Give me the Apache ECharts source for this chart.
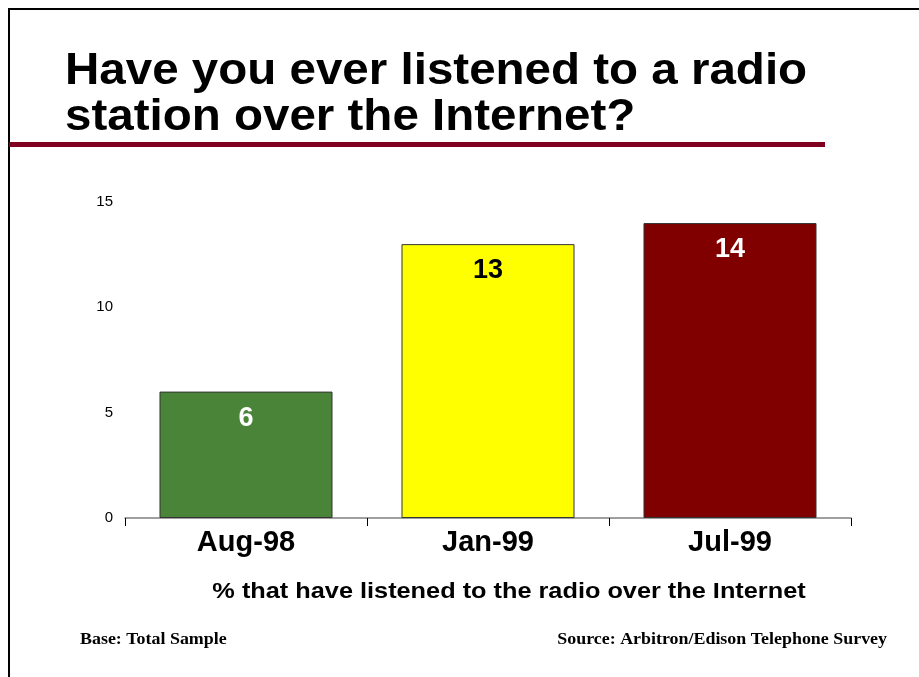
<!DOCTYPE html>
<html>
<head>
<meta charset="utf-8">
<script src="https://cdn.jsdelivr.net/npm/echarts@6/dist/echarts.min.js"></script>
<style>
  html, body { margin: 0; padding: 0; background: #fff; }
  #chart { width: 919px; height: 677px; }
</style>
</head>
<body>
<div id="chart"></div>
<script>
// Survey waves and share of respondents who had listened to radio online (%)
const categories = ['Aug-98', 'Jan-99', 'Jul-99'];
const values = [6, 13, 14];
const barColors = ['#4a8438', '#ffff00', '#800000'];
const labelColors = ['#ffffff', '#000000', '#ffffff'];
const yTicks = [0, 5, 10, 15];

const titleLines = ['Have you ever listened to a radio', 'station over the Internet?'];
const axisCaption = '% that have listened to the radio over the Internet';
const baseNote = 'Base: Total Sample';
const sourceNote = 'Source: Arbitron/Edison Telephone Survey';

const FONT = '"Liberation Sans", Arial, sans-serif';
const SERIF = '"Liberation Serif", "Times New Roman", serif';

const chart = echarts.init(document.getElementById('chart'));

chart.setOption({
  animation: false,
  backgroundColor: '#ffffff',
  grid: { left: 125, right: 68, top: 202, bottom: 159, containLabel: false },
  xAxis: {
    type: 'category',
    data: categories,
    axisLine: { show: true, lineStyle: { color: '#808080', width: 1.5 } },
    axisTick: { show: true, length: 8, lineStyle: { color: '#000000', width: 1 } },
    axisLabel: {
      fontFamily: FONT, fontWeight: 'bold', fontSize: 29, color: '#000000', margin: 10
    }
  },
  yAxis: {
    type: 'value',
    min: yTicks[0],
    max: yTicks[yTicks.length - 1],
    interval: 5,
    axisLine: { show: false },
    axisTick: { show: false },
    splitLine: { show: false },
    axisLabel: { fontFamily: FONT, fontSize: 15, color: '#000000', margin: 12 }
  },
  series: [{
    type: 'bar',
    barWidth: '71.5%',
    data: values.map((v, i) => ({
      value: v,
      itemStyle: { color: barColors[i], borderColor: '#333333', borderWidth: 1 },
      label: { color: labelColors[i] }
    })),
    label: {
      show: true,
      position: 'insideTop',
      distance: 13,
      fontFamily: FONT,
      fontWeight: 'bold',
      fontSize: 27,
      formatter: p => String(p.value)
    }
  }],
  graphic: [
    // slide frame
    {
      type: 'polyline',
      shape: { points: [[9, 677], [9, 9], [919, 9]] },
      style: { stroke: '#000000', lineWidth: 2, fill: null }
    },
    // title, two lines
    {
      type: 'text', x: 65, y: 72, scaleX: 1.08,
      style: {
        text: titleLines[0],
        font: 'bold 44px ' + FONT,
        fill: '#000000', align: 'left', verticalAlign: 'middle'
      }
    },
    {
      type: 'text', x: 65, y: 118, scaleX: 1.08,
      style: {
        text: titleLines[1],
        font: 'bold 44px ' + FONT,
        fill: '#000000', align: 'left', verticalAlign: 'middle'
      }
    },
    // rule under the title
    {
      type: 'rect',
      shape: { x: 9, y: 142, width: 816, height: 5 },
      style: { fill: '#800020' }
    },
    // axis caption
    {
      type: 'text', x: 509, y: 592, scaleX: 1.15,
      style: {
        text: axisCaption,
        font: 'bold 22px ' + FONT,
        fill: '#000000', align: 'center', verticalAlign: 'middle'
      }
    },
    {
      type: 'text', x: 80, y: 640, scaleX: 1.12,
      style: {
        text: baseNote,
        font: 'bold 16px ' + SERIF,
        fill: '#000000', align: 'left', verticalAlign: 'middle'
      }
    },
    {
      type: 'text', x: 887, y: 640, scaleX: 1.12,
      style: {
        text: sourceNote,
        font: 'bold 16px ' + SERIF,
        fill: '#000000', align: 'right', verticalAlign: 'middle'
      }
    }
  ]
});
</script>
</body>
</html>
